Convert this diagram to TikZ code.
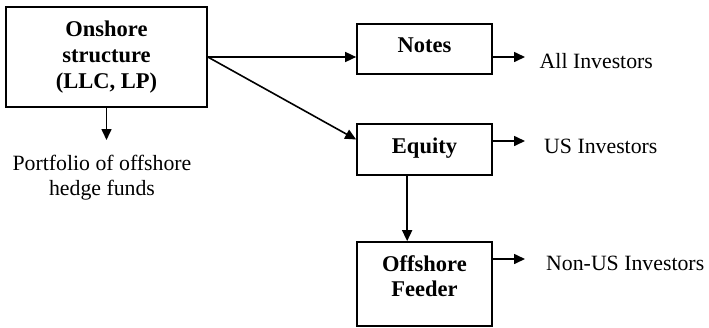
\documentclass[tikz,border=0pt]{standalone}
\usepackage{fontspec}
\setmainfont{Liberation Serif}
\usetikzlibrary{arrows.meta}
\begin{document}
\begin{tikzpicture}[x=1pt,y=-1pt,
  box/.style={draw, line width=1.7pt, inner sep=0pt, minimum width=135pt,
    font=\fontsize{22.5}{25.7}\selectfont\bfseries, align=center},
  onebox/.style={box, minimum height=50pt, text height=15pt, text depth=8pt},
  plain/.style={font=\fontsize{21.8}{25}\selectfont, inner sep=0pt},
  arr/.style={line width=1.6pt, -{Triangle[length=11pt,width=10pt]}}]
\useasboundingbox (0,0) rectangle (709,327);
% boxes
\node[box, minimum width=201pt, minimum height=100pt] (on) at (106.5,57)
  {Onshore\\structure\\(LLC, LP)};
\node[onebox] (notes) at (424.5,49) {Notes};
\node[onebox, minimum height=51pt] (eq) at (424.5,149.5) {Equity};
\node[box, minimum height=84pt] (off) at (424.5,284) {};
\node[font=\fontsize{22.5}{25.7}\selectfont\bfseries, align=center, inner sep=0pt,
  anchor=north] (offtxt) at (424.5,255) {Offshore\\Feeder};
% plain texts
\node[plain, align=center, anchor=north] (port) at (102,155)
  {Portfolio of offshore\\hedge funds};
\node[plain, anchor=base west] (allinv) at (539.5,68) {All Investors};
\node[plain, anchor=base west] (usinv) at (544,153) {US Investors};
\node[plain, anchor=base west] (noninv) at (546,270) {Non-US Investors};
% arrow end points
\coordinate (pt) at (106.5,140);
\coordinate (a1) at (525,57);
\coordinate (a2) at (525,141);
\coordinate (a3) at (525,259);
% connectors
\draw[arr] (on.east) -- (on.east -| notes.west);
\draw[arr] (on.east) -- ([yshift=10pt]eq.west);
\draw[arr] (on.south) -- (pt);
\draw[arr] (a1 -| notes.east) -- (a1);
\draw[arr] (a2 -| eq.east) -- (a2);
\draw[arr] (a3 -| off.east) -- (a3);
\draw[arr] ([xshift=51pt]eq.south west) -- ([xshift=51pt]off.north west);
\end{tikzpicture}
\end{document}
